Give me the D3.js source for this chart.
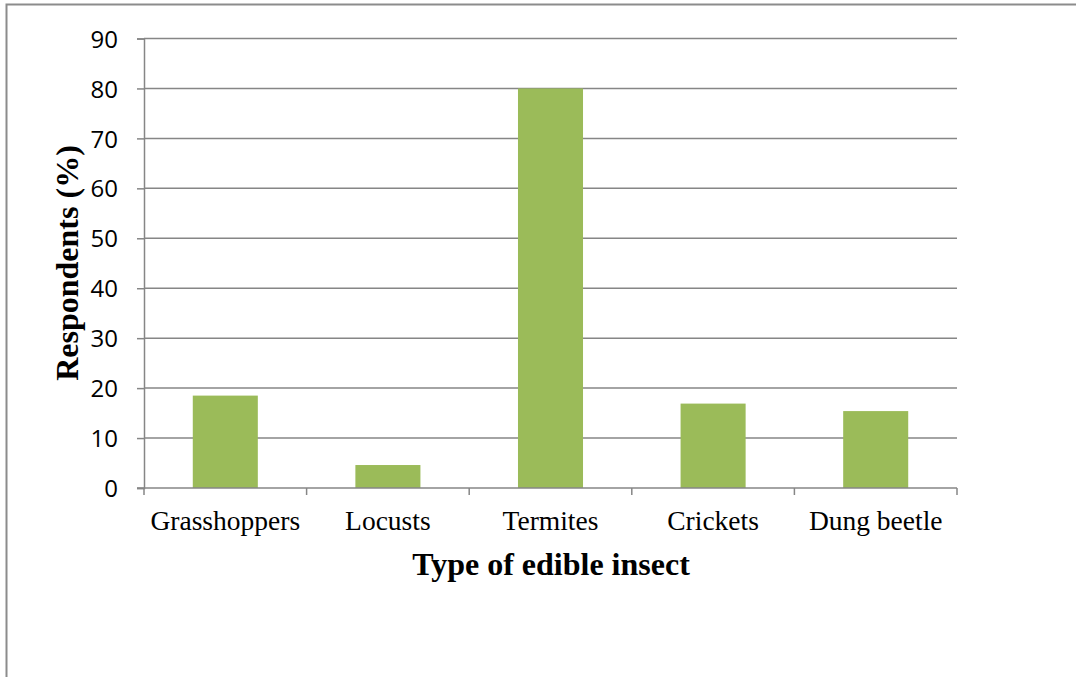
<!DOCTYPE html>
<html>
<head>
<meta charset="utf-8">
<script src="https://cdn.jsdelivr.net/npm/d3@7"></script>
<style>
  html, body { margin: 0; padding: 0; background: #fff; }
  svg { display: block; }
</style>
</head>
<body>
<svg id="chart" width="1076" height="677"></svg>
<script>
// Share of respondents who eat each type of insect
const categories = ["Grasshoppers", "Locusts", "Termites", "Crickets", "Dung beetle"];
const values = [18.5, 4.6, 80, 16.9, 15.4];
const yTicks = [0, 10, 20, 30, 40, 50, 60, 70, 80, 90];

const svg = d3.select("#chart");
const W = 1076, H = 677;
const m = { left: 144, right: 957, top: 38.5, bottom: 488 };
const serif = "'Liberation Serif', 'Times New Roman', serif";

// outer frame (top and left edges)
svg.append("path")
  .attr("d", `M6.5,${H} V4.5 H${W}`)
  .attr("fill", "none")
  .attr("stroke", "#8c8c8c")
  .attr("stroke-width", 2);

const x = d3.scaleBand().domain(categories).range([m.left, m.right]).paddingInner(0.6).paddingOuter(0.3);
const y = d3.scaleLinear().domain([0, 90]).range([m.bottom, m.top]);

// value axis with left tick marks
const yAxis = d3.axisLeft(y).tickValues(yTicks).tickSize(7).tickPadding(19);
const gy = svg.append("g").attr("transform", `translate(${m.left},0)`).call(yAxis);
gy.select(".domain").attr("stroke", "#868686").attr("stroke-width", 1.5);
gy.selectAll(".tick line").attr("stroke", "#868686").attr("stroke-width", 1.5);
gy.selectAll(".tick text")
  .attr("fill", "#000")
  .attr("dy", "0.36em")
  .style("font-family", "'Open Sans', 'Noto Sans', sans-serif")
  .style("font-size", "24px");

// horizontal gridlines
svg.append("g").selectAll("line").data(yTicks.filter(d => d > 0)).join("line")
  .attr("x1", m.left).attr("x2", m.right)
  .attr("y1", d => y(d)).attr("y2", d => y(d))
  .attr("stroke", "#868686").attr("stroke-width", 1.5);

// bars
svg.append("g").selectAll("rect").data(values).join("rect")
  .attr("x", (d, i) => x(categories[i]))
  .attr("width", x.bandwidth())
  .attr("y", d => y(d))
  .attr("height", d => y(0) - y(d))
  .attr("fill", "#9BBB59");

// category axis baseline with separators between categories
const step = (m.right - m.left) / categories.length;
const xAxisG = svg.append("g");
xAxisG.append("line")
  .attr("x1", m.left - 7).attr("x2", m.right)
  .attr("y1", y(0)).attr("y2", y(0))
  .attr("stroke", "#868686").attr("stroke-width", 1.5);
xAxisG.selectAll("line.sep").data(d3.range(categories.length + 1)).join("line")
  .attr("class", "sep")
  .attr("x1", i => m.left + i * step).attr("x2", i => m.left + i * step)
  .attr("y1", y(0)).attr("y2", y(0) + 7)
  .attr("stroke", "#868686").attr("stroke-width", 1.5);

xAxisG.selectAll("text").data(categories).join("text")
  .attr("x", d => x(d) + x.bandwidth() / 2)
  .attr("y", 530)
  .attr("text-anchor", "middle")
  .style("font-family", serif)
  .style("font-size", "27.5px")
  .attr("fill", "#000")
  .text(d => d);

// axis titles
svg.append("text")
  .attr("x", 551).attr("y", 575)
  .attr("text-anchor", "middle")
  .style("font-family", serif)
  .style("font-size", "32px").style("font-weight", "bold")
  .text("Type of edible insect");

svg.append("text")
  .attr("transform", `translate(78,263) rotate(-90)`)
  .attr("text-anchor", "middle")
  .style("font-family", serif)
  .style("font-size", "32px").style("font-weight", "bold")
  .text("Respondents (%)");
</script>
</body>
</html>
